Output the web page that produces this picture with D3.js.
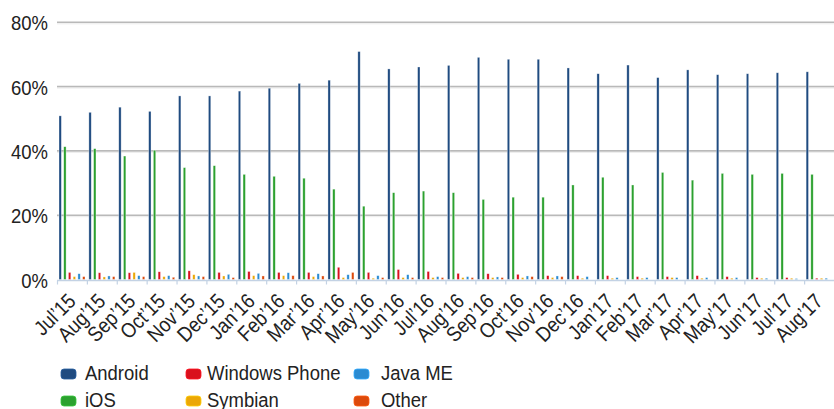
<!DOCTYPE html>
<html>
<head>
<meta charset="utf-8">
<script src="https://cdn.jsdelivr.net/npm/d3@7"></script>
<style>
  html, body { margin: 0; padding: 0; background: #fff; }
  svg { display: block; }
  text { font-family: "Liberation Sans", Arial, sans-serif; fill: #222; }
</style>
</head>
<body>
<svg id="chart" width="834" height="409"></svg>
<script>
const months = ["Jul\u201915","Aug\u201915","Sep\u201915","Oct\u201915","Nov\u201915","Dec\u201915",
  "Jan\u201916","Feb\u201916","Mar\u201916","Apr\u201916","May\u201916","Jun\u201916","Jul\u201916",
  "Aug\u201916","Sep\u201916","Oct\u201916","Nov\u201916","Dec\u201916","Jan\u201917","Feb\u201917",
  "Mar\u201917","Apr\u201917","May\u201917","Jun\u201917","Jul\u201917","Aug\u201917"];

const seriesNames = ["Android","iOS","Windows Phone","Symbian","Java ME","Other"];
const seriesColors = ["#1f4b80","#2ca12f","#d9101c","#eba707","#2a8bd2","#dc4a0c"];

const android = [50.9,52.0,53.6,52.3,57.1,57.1,58.6,59.5,61.0,62.0,70.9,65.5,66.1,66.6,69.1,68.5,68.5,65.8,64.0,66.7,62.8,65.2,63.7,64.0,64.3,64.6];
const ios     = [41.3,40.7,38.4,40.2,34.8,35.4,32.7,32.1,31.5,28.1,22.8,27.0,27.5,27.0,24.9,25.6,25.6,29.4,31.8,29.4,33.3,30.9,33.0,32.7,33.0,32.7];
const winPhone= [2.2,2.1,2.1,2.4,2.7,2.2,2.5,2.2,2.2,3.8,2.2,3.1,2.5,1.9,1.8,1.6,1.2,1.2,1.2,0.9,0.9,1.2,0.9,0.6,0.6,0.4];
const symbian = [0.9,0.8,2.2,0.9,1.5,1.1,1.2,1.2,0.9,0.6,0.4,0.6,0.6,0.6,0.6,0.6,0.6,0.4,0.4,0.4,0.6,0.4,0.4,0.4,0.4,0.4];
const javaME  = [1.8,1.1,1.2,1.2,1.1,1.6,1.9,2.1,1.8,1.5,1.2,1.5,0.9,0.9,0.8,1.1,1.1,0.9,0.6,0.6,0.6,0.6,0.6,0.4,0.3,0.4];
const other   = [0.9,0.9,0.9,0.7,0.9,0.6,1.1,1.2,1.1,2.2,0.6,0.6,0.6,0.6,0.6,0.9,0.9,0,0,0,0,0,0,0,0,0];

const yTicks = [0,20,40,60,80];

const seriesValues = [android, ios, winPhone, symbian, javaME, other];

const svg = d3.select("#chart");
const mLeft = 57, mRight = 834, mTop = 22.3, mBottom = 279.5;
const fontSize = "21px";
const squeeze = 0.88;

const x = d3.scaleBand().domain(months).range([mLeft, mRight]).padding(0);
const xi = d3.scaleBand().domain(seriesNames).range([2, 28]).paddingInner(0.5).paddingOuter(0);
const y = d3.scaleLinear().domain([0, 80]).range([mBottom, mTop]);

// gridlines
svg.append("g").selectAll("line").data(yTicks.filter(d => d > 0)).join("line")
  .attr("x1", mLeft).attr("x2", mRight)
  .attr("y1", d => y(d)).attr("y2", d => y(d))
  .attr("stroke", "#b9b9b9").attr("stroke-width", 1.6);
svg.append("g").selectAll("line").data(yTicks.filter(d => d > 0)).join("line")
  .attr("x1", mLeft).attr("x2", mRight)
  .attr("y1", d => y(d) + 1.5).attr("y2", d => y(d) + 1.5)
  .attr("stroke", "#ececec").attr("stroke-width", 1);

// y axis labels
const yAxis = d3.axisLeft(y).tickValues(yTicks).tickFormat(d => d + "%").tickSize(0).tickPadding(0);
const yg = svg.append("g").attr("transform", `translate(${mLeft - 9},0)`).call(yAxis);
yg.select(".domain").remove();
yg.selectAll("text").style("font-size", fontSize).style("font-family", "Liberation Sans")
  .attr("x", 0).attr("fill", "#222").attr("dy", "0.36em")
  .attr("transform", `scale(${squeeze},1)`);

// bars
const groups = svg.append("g").selectAll("g").data(months).join("g")
  .attr("transform", d => `translate(${x(d)},0)`);
groups.selectAll("rect")
  .data((m, i) => seriesNames.map((s, k) => ({ s, k, v: seriesValues[k][i] })).filter(d => d.v > 0))
  .join("rect")
  .attr("x", d => xi(d.s))
  .attr("width", xi.bandwidth())
  .attr("y", d => y(d.v))
  .attr("height", d => mBottom - y(d.v))
  .attr("fill", d => seriesColors[d.k])
  .attr("stroke", "rgba(255,255,255,0.55)")
  .attr("stroke-width", 0.6);

// x axis
const xAxisLine = svg.append("g");
xAxisLine.append("line").attr("x1", mLeft).attr("x2", mRight)
  .attr("y1", mBottom + 1).attr("y2", mBottom + 1)
  .attr("stroke", "#c3d2e4").attr("stroke-width", 1.5);
xAxisLine.selectAll("line.tick").data(months).join("line").attr("class", "tick")
  .attr("x1", d => x(d) + 0.5).attr("x2", d => x(d) + 0.5)
  .attr("y1", mBottom + 1).attr("y2", mBottom + 5)
  .attr("stroke", "#c3d2e4").attr("stroke-width", 1.2);

svg.append("g").selectAll("text").data(months).join("text")
  .attr("transform", d => `translate(${x(d) + x.bandwidth() / 2 + 5},${mBottom + 23}) rotate(-45) scale(${squeeze},1)`)
  .attr("text-anchor", "end")
  .style("font-size", fontSize)
  .text(d => d);

// legend
const legendPos = [
  { sx: 61, tx: 85, row: 0 }, { sx: 61, tx: 85, row: 1 },
  { sx: 186, tx: 207, row: 0 }, { sx: 186, tx: 207, row: 1 },
  { sx: 354, tx: 381, row: 0 }, { sx: 354, tx: 381, row: 1 }
];
const lg = svg.append("g").selectAll("g").data(seriesNames).join("g");
lg.append("rect")
  .attr("x", (d, i) => legendPos[i].sx)
  .attr("y", (d, i) => 369 + legendPos[i].row * 27)
  .attr("width", 15).attr("height", 10).attr("rx", 3)
  .attr("fill", (d, i) => seriesColors[i])
  .attr("stroke", (d, i) => d3.color(seriesColors[i]).brighter(0.6))
  .attr("stroke-width", 0.8);
lg.append("text")
  .attr("transform", (d, i) => `translate(${legendPos[i].tx},${380 + legendPos[i].row * 27}) scale(${squeeze},1)`)
  .style("font-size", fontSize)
  .text(d => d);
</script>
</body>
</html>
